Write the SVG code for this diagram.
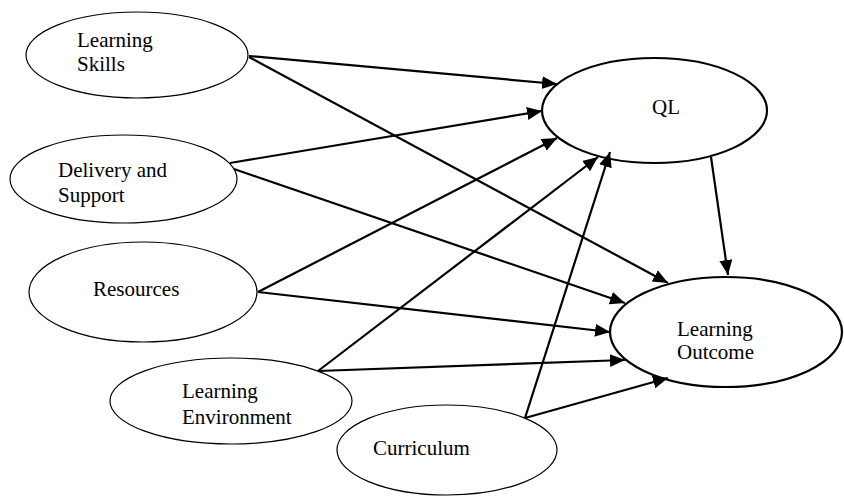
<svg xmlns="http://www.w3.org/2000/svg" width="844" height="496" viewBox="0 0 844 496">
<style>
.n{fill:#fff;stroke:#000;stroke-width:1.2}
.b{fill:#fff;stroke:#000;stroke-width:2.2}
text{font-family:"Liberation Serif","Times New Roman",serif;font-size:21px;fill:#000}
.e{stroke:#000;stroke-width:2.2;fill:none;marker-end:url(#ah)}
</style>
<defs>
<marker id="ah" markerUnits="userSpaceOnUse" markerWidth="16" markerHeight="14" refX="15" refY="6.5" orient="auto">
<path d="M0,0 L15,6.5 L0,13 z" fill="#000"/>
</marker>
</defs>
<g id="n-skills"><ellipse class="n" cx="137" cy="55" rx="111" ry="43"/><text x="77" y="47">Learning</text><text x="77" y="71">Skills</text></g>
<g id="n-delivery"><ellipse class="n" cx="123.5" cy="179" rx="113.5" ry="44"/><text x="58" y="177">Delivery and</text><text x="58" y="202">Support</text></g>
<g id="n-resources"><ellipse class="n" cx="143" cy="292" rx="114" ry="50"/><text x="93" y="296">Resources</text></g>
<g id="n-env"><ellipse class="n" cx="231" cy="401" rx="121" ry="43"/><text x="182" y="398">Learning</text><text x="182" y="424">Environment</text></g>
<g id="n-curriculum"><ellipse class="n" cx="447" cy="450" rx="110" ry="45"/><text x="373" y="455">Curriculum</text></g>
<g id="n-ql"><ellipse class="b" cx="654.5" cy="110.5" rx="112.5" ry="52.5"/><text x="652" y="114">QL</text></g>
<g id="n-lo"><ellipse class="b" cx="726" cy="332" rx="116" ry="55"/><text x="677" y="336">Learning</text><text x="677" y="359">Outcome</text></g>
<g id="connectors">
<line class="e" x1="249" y1="56" x2="557" y2="84"/>
<line class="e" x1="249" y1="57" x2="668" y2="283"/>
<line class="e" x1="230" y1="163" x2="542" y2="111"/>
<line class="e" x1="234" y1="169" x2="625" y2="303"/>
<line class="e" x1="258" y1="292" x2="557" y2="138"/>
<line class="e" x1="258" y1="292" x2="610" y2="332"/>
<line class="e" x1="318" y1="371" x2="598" y2="157"/>
<line class="e" x1="318" y1="371" x2="625" y2="360"/>
<line class="e" x1="525" y1="418" x2="610" y2="152"/>
<line class="e" x1="525" y1="418" x2="668" y2="378"/>
<line class="e" x1="711" y1="157" x2="728" y2="275"/>
</g>
</svg>
